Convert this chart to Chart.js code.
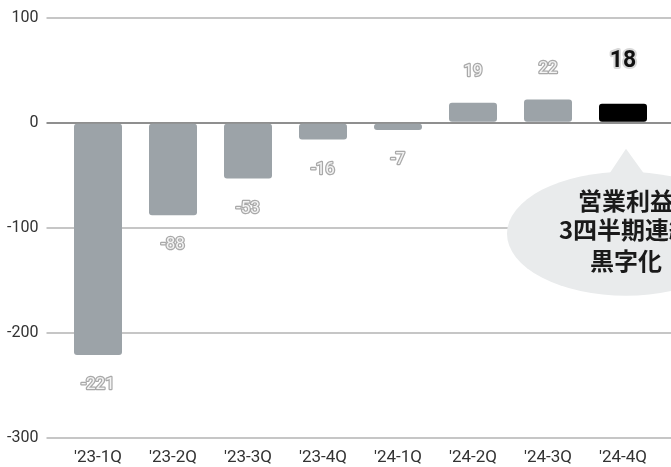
<!DOCTYPE html>
<html>
<head>
<meta charset="utf-8">
<script src="https://cdn.jsdelivr.net/npm/chart.js@4/dist/chart.umd.min.js"></script>
<style>
  html, body { margin: 0; padding: 0; background: #fff; overflow: hidden; }
  #wrap { width: 671px; height: 467px; }
</style>
</head>
<body>
<div id="wrap"><canvas id="profitChart" width="671" height="467"></canvas></div>
<script>
// 四半期ごとの営業利益
const quarters = ["'23-1Q", "'23-2Q", "'23-3Q", "'23-4Q", "'24-1Q", "'24-2Q", "'24-3Q", "'24-4Q"];
const operatingProfit = [-221, -88, -53, -16, -7, 19, 22, 18];
const highlightIndex = 7;
const yMin = -300;
const yMax = 100;
const yStep = 100;
const calloutLines = ["営業利益", "3四半期連続", "黒字化"];

const barColors = operatingProfit.map((v, i) => i === highlightIndex ? '#000000' : '#9ca3a8');

// 値ラベル（縁取り文字）
const valueLabels = {
    id: 'valueLabels',
    afterDatasetsDraw(chart) {
        const ctx = chart.ctx;
        const meta = chart.getDatasetMeta(0);
        ctx.save();
        ctx.textAlign = 'center';
        ctx.textBaseline = 'middle';
        ctx.lineJoin = 'round';
        meta.data.forEach((bar, i) => {
            const v = operatingProfit[i];
            const text = String(v);
            if (i === highlightIndex) {
                ctx.font = 'bold 23px Roboto, "Noto Sans", sans-serif';
                ctx.lineWidth = 4;
                ctx.strokeStyle = '#d8d8d8';
                ctx.fillStyle = '#111111';
                const y = bar.y - 43;
                ctx.strokeText(text, bar.x, y);
                ctx.fillText(text, bar.x, y);
                return;
            }
            ctx.font = '17px Roboto, "Noto Sans", sans-serif';
            ctx.lineWidth = 2.5;
            ctx.strokeStyle = '#a9a9a9';
            ctx.fillStyle = '#f4f4f4';
            const y = v < 0 ? bar.y + 30 : bar.y - 31;
            ctx.strokeText(text, bar.x, y);
            ctx.fillText(text, bar.x, y);
        });
        ctx.restore();
    }
};

// 吹き出し
const callout = {
    id: 'callout',
    afterDraw(chart) {
        const ctx = chart.ctx;
        const bar = chart.getDatasetMeta(0).data[highlightIndex];
        const zeroY = chart.scales.y.getPixelForValue(0);
        const cx = bar.x + 3;
        const cy = zeroY + 111;
        ctx.save();
        ctx.fillStyle = '#e9ebec';
        ctx.beginPath();
        ctx.ellipse(cx, cy, 119, 62, 0, 0, Math.PI * 2);
        ctx.fill();
        ctx.beginPath();
        ctx.moveTo(cx, zeroY + 26);
        ctx.lineTo(cx - 24, zeroY + 62);
        ctx.lineTo(cx + 26, zeroY + 62);
        ctx.closePath();
        ctx.fill();

        ctx.fillStyle = '#1a1a1a';
        ctx.font = 'bold 24px "Noto Sans CJK JP", sans-serif';
        ctx.textAlign = 'center';
        ctx.textBaseline = 'middle';
        const offsets = [-33, -4, 27];
        calloutLines.forEach((line, i) => {
            ctx.fillText(line, cx, cy + offsets[i]);
        });
        ctx.restore();
    }
};

new Chart(document.getElementById('profitChart'), {
    type: 'bar',
    data: {
        datasets: [{
            data: operatingProfit.map((v, i) => ({ x: i, y: v })),
            backgroundColor: barColors,
            borderRadius: 3,
            borderSkipped: false,
            barPercentage: 0.8,
            categoryPercentage: 0.8
        }]
    },
    options: {
        responsive: false,
        animation: false,
        devicePixelRatio: 1,
        layout: { padding: { top: 15, right: 0, bottom: 0, left: 0 } },
        plugins: {
            legend: { display: false },
            tooltip: { enabled: false }
        },
        scales: {
            x: {
                type: 'linear',
                min: -0.5,
                max: 7.64,
                offset: false,
                grid: { display: false, drawTicks: false, offset: false },
                border: { display: false },
                ticks: {
                    stepSize: 1,
                    includeBounds: false,
                    autoSkip: false,
                    maxRotation: 0,
                    padding: 10,
                    color: '#333333',
                    font: { family: 'Roboto', size: 17 },
                    callback: (v) => Number.isInteger(v) && quarters[v] !== undefined ? quarters[v] : ''
                },
                afterFit: (scale) => { scale.height = 29; }
            },
            y: {
                min: yMin,
                max: yMax,
                border: { display: false },
                grid: {
                    color: (c) => c.tick && c.tick.value === 0 ? '#8f8f8f' : '#c6c6c6',
                    lineWidth: 2,
                    tickLength: 14
                },
                ticks: {
                    stepSize: yStep,
                    padding: 8,
                    color: '#333333',
                    font: { family: 'Roboto', size: 16 }
                },
                afterFit: (scale) => { scale.width = 60.5; }
            }
        }
    },
    plugins: [valueLabels, callout]
});
</script>
</body>
</html>
